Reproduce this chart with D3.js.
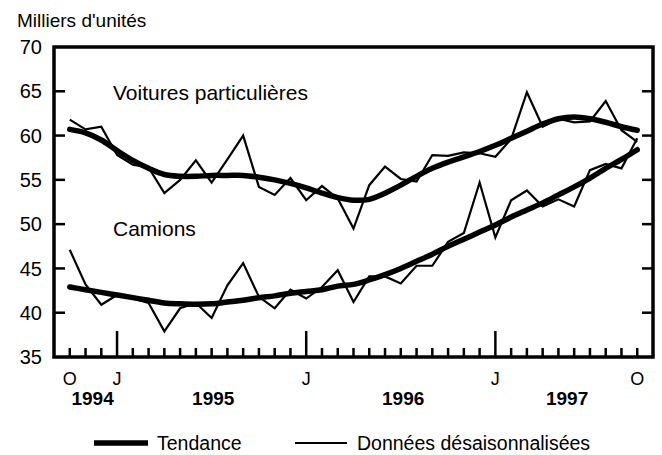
<!DOCTYPE html>
<html>
<head>
<meta charset="utf-8">
<script src="https://cdn.jsdelivr.net/npm/d3@7"></script>
<style>
  html, body { margin: 0; padding: 0; background: #fff; }
  svg { display: block; font-family: "Liberation Sans", Arial, Helvetica, sans-serif; }
</style>
</head>
<body>
<svg id="chart" width="662" height="455"></svg>
<script>
// Month index 0 = October 1994 ... 36 = October 1997
const months = d3.range(0, 37);

const carsData = [61.8, 60.7, 61.0, 57.8, 56.7, 56.4, 53.5, 55.0, 57.2, 54.7,
  57.3, 60.0, 54.2, 53.3, 55.2, 52.7, 54.3, 52.9, 49.5, 54.4,
  56.5, 55.1, 54.8, 57.8, 57.7, 58.1, 58.0, 57.6, 59.6, 64.9,
  61.0, 61.9, 61.5, 61.6, 63.9, 60.6, 59.3];
const carsTrend = [60.7, 60.3, 59.5, 58.3, 57.2, 56.3, 55.6, 55.4, 55.4, 55.5,
  55.5, 55.5, 55.3, 55.0, 54.6, 54.1, 53.5, 53.0, 52.7, 52.8,
  53.5, 54.4, 55.4, 56.3, 57.0, 57.6, 58.2, 58.9, 59.7, 60.5,
  61.3, 61.9, 62.1, 61.9, 61.5, 61.0, 60.6];
const trucksData = [47.1, 43.2, 40.9, 42.0, 41.6, 41.1, 37.9, 40.5, 41.1, 39.4,
  43.1, 45.6, 41.8, 40.5, 42.6, 41.6, 42.9, 44.8, 41.2, 44.1,
  44.1, 43.3, 45.3, 45.3, 48.0, 49.0, 54.7, 48.5, 52.7, 53.8,
  52.0, 52.8, 52.0, 56.1, 56.8, 56.3, 59.7];
const trucksTrend = [42.9, 42.6, 42.3, 42.0, 41.7, 41.4, 41.1, 41.0, 40.95, 41.0,
  41.2, 41.4, 41.7, 41.9, 42.2, 42.4, 42.6, 43.0, 43.2, 43.7,
  44.3, 45.0, 45.8, 46.6, 47.5, 48.3, 49.1, 49.9, 50.8, 51.6,
  52.4, 53.3, 54.2, 55.2, 56.3, 57.3, 58.4];

const yTicks = [35, 40, 45, 50, 55, 60, 65, 70];
const monthLabels = [{i: 0, t: "O"}, {i: 3, t: "J"}, {i: 15, t: "J"}, {i: 27, t: "J"}, {i: 36, t: "O"}];
const yearLabels = [{i: 1.45, t: "1994"}, {i: 9.1, t: "1995"}, {i: 21.15, t: "1996"}, {i: 31.55, t: "1997"}];
const majorMonths = [3, 15, 27];
const seriesLabels = [{t: "Voitures particulières", i: 2.8, v: 64.0}, {t: "Camions", i: 2.8, v: 48.7}];
const yTitle = "Milliers d'unités";
const legendItems = [{t: "Tendance", w: 5.5}, {t: "Données désaisonnalisées", w: 2}];

const svg = d3.select("#chart");
const L = 54, R = 653, T = 47, B = 357;
const x = d3.scaleLinear().domain([-1, 37]).range([L, R]);
const y = d3.scaleLinear().domain([35, 70]).range([B, T]);

svg.append("rect").attr("width", 662).attr("height", 455).attr("fill", "#fff");

// y title
svg.append("text").attr("x", 17).attr("y", 27).attr("font-size", 19).text(yTitle);

// y tick labels
svg.selectAll(".ylab").data(yTicks).join("text")
  .attr("x", 42).attr("y", d => y(d)).attr("dy", "0.36em")
  .attr("text-anchor", "end").attr("font-size", 20).text(d => d);

// inner y ticks (left and right)
const innerTicks = yTicks.filter(d => d > 35 && d < 70);
svg.selectAll(".ytl").data(innerTicks).join("line")
  .attr("x1", L).attr("x2", L + 11).attr("y1", d => y(d)).attr("y2", d => y(d))
  .attr("stroke", "#000").attr("stroke-width", 2.5);
svg.selectAll(".ytr").data(innerTicks).join("line")
  .attr("x1", R).attr("x2", R - 11).attr("y1", d => y(d)).attr("y2", d => y(d))
  .attr("stroke", "#000").attr("stroke-width", 2.5);

// x month ticks
svg.selectAll(".xt").data(months).join("line")
  .attr("x1", d => x(d)).attr("x2", d => x(d))
  .attr("y1", B).attr("y2", d => majorMonths.includes(d) ? B - 26 : B - 9)
  .attr("stroke", "#000").attr("stroke-width", 2.5);

// frame
svg.append("rect").attr("x", L).attr("y", T).attr("width", R - L).attr("height", B - T)
  .attr("fill", "none").attr("stroke", "#000").attr("stroke-width", 3.5);

// month letters
svg.selectAll(".ml").data(monthLabels).join("text")
  .attr("x", d => x(d.i)).attr("y", 385).attr("text-anchor", "middle")
  .attr("font-size", 18).text(d => d.t);

// year labels
svg.selectAll(".yl").data(yearLabels).join("text")
  .attr("x", d => x(d.i)).attr("y", 405).attr("text-anchor", "middle")
  .attr("font-size", 19).attr("font-weight", "bold").text(d => d.t);

// lines
const smooth = d3.line().x((d, i) => x(i)).y(d => y(d)).curve(d3.curveCatmullRom.alpha(0.5));
const straight = d3.line().x((d, i) => x(i)).y(d => y(d));

[carsTrend, trucksTrend].forEach(s => {
  svg.append("path").attr("d", smooth(s)).attr("fill", "none")
    .attr("stroke", "#000").attr("stroke-width", 5.5).attr("stroke-linejoin", "round").attr("stroke-linecap", "round");
});
[carsData, trucksData].forEach(s => {
  svg.append("path").attr("d", straight(s)).attr("fill", "none")
    .attr("stroke", "#000").attr("stroke-width", 2.2).attr("stroke-linejoin", "miter");
});

// series labels
svg.selectAll(".sl").data(seriesLabels).join("text")
  .attr("x", 113).attr("y", d => y(d.v)).attr("font-size", 21).text(d => d.t);

// legend
const lg = [{x1: 94, x2: 148, tx: 157}, {x1: 295, x2: 347, tx: 357}];
legendItems.forEach((it, k) => {
  svg.append("line").attr("x1", lg[k].x1).attr("x2", lg[k].x2).attr("y1", 443).attr("y2", 443)
    .attr("stroke", "#000").attr("stroke-width", it.w);
  svg.append("text").attr("x", lg[k].tx).attr("y", 443).attr("dy", "0.35em")
    .attr("font-size", 19.5).text(it.t);
});
</script>
</body>
</html>
